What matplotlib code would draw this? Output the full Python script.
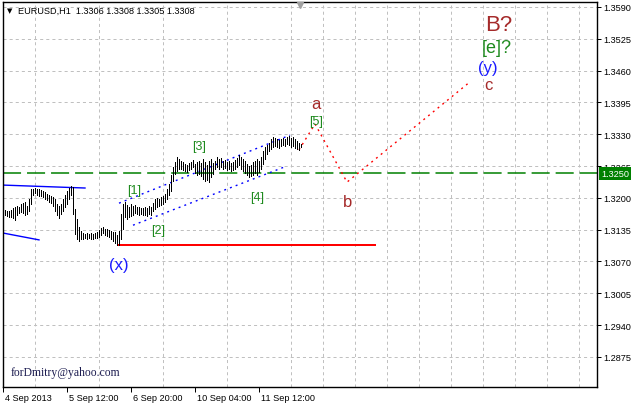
import numpy as np
import matplotlib
matplotlib.use('Agg')
import matplotlib.pyplot as plt
from matplotlib.transforms import ScaledTranslation, blended_transform_factory

# hourly bars of EURUSD H1 (bar 0 = first bar on the chart)
highs = [1.3175, 1.3173, 1.3173, 1.3175, 1.3179, 1.3181, 1.3183, 1.3181, 1.3187, 1.3189,
         1.3191, 1.3183, 1.3198, 1.3218, 1.3218, 1.3220, 1.3218, 1.3218, 1.3216, 1.3214,
         1.3212, 1.3208, 1.3206, 1.3204, 1.3202, 1.3198, 1.3187, 1.3183, 1.3187, 1.3198,
         1.3206, 1.3214, 1.3220, 1.3224, 1.3222, 1.3177, 1.3157, 1.3140, 1.3132, 1.3128,
         1.3126, 1.3128, 1.3126, 1.3128, 1.3126, 1.3128, 1.3130, 1.3134, 1.3138, 1.3140,
         1.3136, 1.3136, 1.3134, 1.3132, 1.3130, 1.3130, 1.3124, 1.3132, 1.3167, 1.3187,
         1.3191, 1.3185, 1.3181, 1.3187, 1.3183, 1.3185, 1.3181, 1.3181, 1.3179, 1.3179,
         1.3181, 1.3179, 1.3183, 1.3181, 1.3189, 1.3198, 1.3200, 1.3198, 1.3202, 1.3204,
         1.3208, 1.3218, 1.3228, 1.3247, 1.3263, 1.3273, 1.3283, 1.3279, 1.3275, 1.3273,
         1.3269, 1.3267, 1.3271, 1.3273, 1.3277, 1.3269, 1.3273, 1.3275, 1.3271, 1.3279,
         1.3273, 1.3267, 1.3275, 1.3279, 1.3271, 1.3275, 1.3283, 1.3279, 1.3281, 1.3275,
         1.3277, 1.3273, 1.3275, 1.3271, 1.3273, 1.3277, 1.3281, 1.3287, 1.3283, 1.3279,
         1.3275, 1.3269, 1.3265, 1.3267, 1.3273, 1.3275, 1.3279, 1.3275, 1.3283, 1.3296,
         1.3304, 1.3308, 1.3312, 1.3320, 1.3324, 1.3322, 1.3320, 1.3318, 1.3320, 1.3322,
         1.3320, 1.3324, 1.3326, 1.3322, 1.3324, 1.3320, 1.3316, 1.3312, 1.3310]
lows = [1.3165, 1.3163, 1.3161, 1.3161, 1.3159, 1.3154, 1.3165, 1.3169, 1.3171, 1.3169,
        1.3165, 1.3167, 1.3173, 1.3187, 1.3206, 1.3210, 1.3206, 1.3204, 1.3204, 1.3202,
        1.3198, 1.3196, 1.3191, 1.3189, 1.3183, 1.3173, 1.3165, 1.3159, 1.3167, 1.3173,
        1.3181, 1.3187, 1.3198, 1.3206, 1.3167, 1.3126, 1.3116, 1.3112, 1.3116, 1.3116,
        1.3118, 1.3116, 1.3118, 1.3116, 1.3116, 1.3118, 1.3118, 1.3120, 1.3124, 1.3128,
        1.3124, 1.3122, 1.3120, 1.3116, 1.3112, 1.3108, 1.3104, 1.3104, 1.3116, 1.3136,
        1.3161, 1.3157, 1.3161, 1.3163, 1.3165, 1.3169, 1.3167, 1.3165, 1.3167, 1.3165,
        1.3165, 1.3163, 1.3167, 1.3165, 1.3173, 1.3177, 1.3181, 1.3183, 1.3185, 1.3187,
        1.3191, 1.3198, 1.3206, 1.3214, 1.3234, 1.3249, 1.3255, 1.3259, 1.3259, 1.3257,
        1.3255, 1.3253, 1.3257, 1.3259, 1.3263, 1.3251, 1.3247, 1.3249, 1.3245, 1.3238,
        1.3234, 1.3236, 1.3232, 1.3243, 1.3249, 1.3259, 1.3263, 1.3259, 1.3263, 1.3259,
        1.3261, 1.3257, 1.3259, 1.3255, 1.3257, 1.3259, 1.3263, 1.3267, 1.3259, 1.3255,
        1.3251, 1.3247, 1.3243, 1.3245, 1.3247, 1.3251, 1.3247, 1.3253, 1.3259, 1.3269,
        1.3279, 1.3290, 1.3296, 1.3300, 1.3304, 1.3306, 1.3304, 1.3302, 1.3306, 1.3308,
        1.3306, 1.3310, 1.3308, 1.3304, 1.3306, 1.3302, 1.3300, 1.3298, 1.3304]

price_ticks = [1.2875, 1.2940, 1.3005, 1.3070, 1.3135, 1.3200, 1.3265,
               1.3330, 1.3395, 1.3460, 1.3525, 1.3590]
time_labels = ['4 Sep 2013', '5 Sep 12:00', '6 Sep 20:00', '10 Sep 04:00', '11 Sep 12:00']
time_label_bars = [-1, 31, 63, 95, 127]
title_text = 'EURUSD,H1  1.3306 1.3308 1.3305 1.3308'
watermark = 'forDmitry@yahoo.com'

level_price = 1.3250

# drawn objects (bar index, price)
blue_line1_bars, blue_line1_prices = [-1, 40], [1.3226, 1.3220]
blue_line2_bars, blue_line2_prices = [-1, 17], [1.3128, 1.3114]
chan_up_bars, chan_up_prices = [57, 142.5], [1.3189, 1.3328]
chan_lo_bars, chan_lo_prices = [64, 141], [1.3144, 1.3265]
red_level_bars, red_level_price = [57, 185], 1.3104
forecast_bars = [147, 155, 171, 232.5]
forecast_prices = [1.3298, 1.3351, 1.3232, 1.3437]

wave_text = ['[1]', '[2]', '[3]', '[4]', '[5]', 'a', 'b', 'c', '(y)', '[e]?', 'B?', '(x)']
wave_bars = [64.5, 76.5, 97, 126, 155.5, 155.5, 171.5, 241.5, 241.5, 246, 247, 57]
wave_prices = [1.3216, 1.3134, 1.3306, 1.3202, 1.3357, 1.3392, 1.3193, 1.3431,
               1.3467, 1.3508, 1.3555, 1.3063]

GREEN = '#1e8a1e'
BROWN = '#a52a2a'
wave_colors = [GREEN] * 5 + [BROWN] * 3 + ['#1a1aff', GREEN, BROWN, '#1a1aff']
wave_sizes = [9, 9, 9, 9, 9, 12, 12, 12, 12, 13, 16, 12]

plt.rcParams['font.family'] = ['Liberation Sans', 'DejaVu Sans']
plt.rcParams['lines.scale_dashes'] = False
px = 0.72  # one pixel in points

fig = plt.figure(figsize=(6.34, 4.06), dpi=100)
ax = fig.add_axes([3 / 634, 18 / 406, 594 / 634, 385 / 406])
ax.set_xlim(-1, 296)
ax.set_ylim(1.28133, 1.36002)

# grid
ax.set_yticks(price_ticks)
ax.set_yticklabels(['%.4f' % p for p in price_ticks])
ax.set_xticks(np.arange(15, 296, 16), minor=True)
ax.set_xticks(time_label_bars)
ax.set_xticklabels(time_labels)
ax.grid(True, which='minor', axis='x', color='#c0c0c0', lw=px, ls=(0, (2.2, 2.2)))
ax.grid(True, which='major', axis='y', color='#c0c0c0', lw=px, ls=(0, (2.2, 2.2)))
ax.tick_params(axis='x', which='minor', length=0)
ax.tick_params(axis='x', which='major', length=3.6, width=px, pad=1, labelsize=6.6)
ax.yaxis.tick_right()
ax.tick_params(axis='y', length=3, width=px, pad=1.5, labelsize=6.6)
for lbl in ax.get_xticklabels():
    lbl.set_ha('left')
    lbl.set_transform(lbl.get_transform() + ScaledTranslation(2 / 100, 0, fig.dpi_scale_trans))
for s in ax.spines.values():
    s.set_linewidth(1.0)
    s.set_color('black')

# price bars
idx = np.arange(len(highs))
ax.vlines(idx, lows, highs, color='black', lw=px, antialiased=False, zorder=3)

# horizontal level
ax.axhline(level_price, color='#008000', lw=1.1, ls=(0, (13, 4.3)), zorder=2)
trans = blended_transform_factory(ax.transAxes, ax.transData)
ax.text(1.0, level_price, '1.3250', transform=trans + ScaledTranslation(4 / 100, 0, fig.dpi_scale_trans),
        ha='left', va='center', color='white', fontsize=6.6, zorder=10, clip_on=False,
        bbox=dict(boxstyle='square,pad=0.25', facecolor='#008000', edgecolor='none'))

# drawn lines
dot = (0, (1.4, 3.0))
ax.plot(blue_line1_bars, blue_line1_prices, color='blue', lw=1.0)
ax.plot(blue_line2_bars, blue_line2_prices, color='blue', lw=1.0)
ax.plot(chan_up_bars, chan_up_prices, color='blue', lw=1.0, ls=dot)
ax.plot(chan_lo_bars, chan_lo_prices, color='blue', lw=1.0, ls=dot)
ax.plot(red_level_bars, [red_level_price] * 2, color='red', lw=1.2, antialiased=False)
ax.plot(forecast_bars, forecast_prices, color='red', lw=1.0, ls=dot)

# wave labels
for t, b, p, c, s in zip(wave_text, wave_bars, wave_prices, wave_colors, wave_sizes):
    ax.text(b, p, t, color=c, fontsize=s, ha='center', va='center', zorder=5)

# header, watermark, shift marker
fig.text(10 / 634, 1 - 11 / 406, '\u25bc', fontsize=5, ha='center', va='center', color='black',
         family='DejaVu Sans')
fig.text(18 / 634, 1 - 11 / 406, title_text, fontsize=6.6, ha='left', va='center', color='black')
fig.text(11 / 634, 1 - 373 / 406, watermark, fontsize=8.4, ha='left', va='center',
         color='#1c1c50', family='Liberation Serif')
ax.plot([0.5], [0.992], marker='v', color='#a0a0a0', markersize=5, transform=ax.transAxes,
        clip_on=False, zorder=6)

fig.savefig('out.png', dpi=100)
